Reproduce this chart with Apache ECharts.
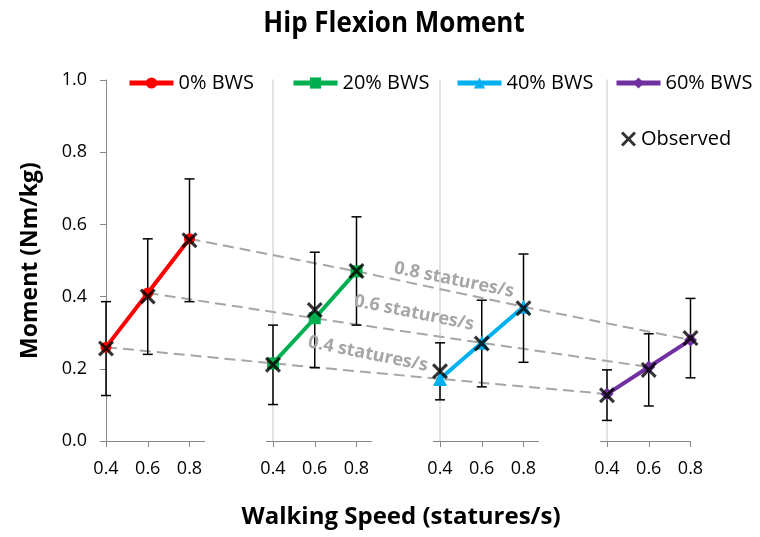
<!DOCTYPE html>
<html><head><meta charset="utf-8">
<script src="https://cdn.jsdelivr.net/npm/echarts@6/dist/echarts.min.js"></script>
<style>html,body{margin:0;padding:0;background:#fff}#c{width:760px;height:537px}</style>
</head><body><div id="c"></div>
<script>
// ---- data ----
const speeds = [0.4, 0.6, 0.8];
const groups = ['0% BWS', '20% BWS', '40% BWS', '60% BWS'];
const predicted0 = [0.26, 0.41, 0.56];
const predicted20 = [0.215, 0.34, 0.47];
const predicted40 = [0.172, 0.272, 0.372];
const predicted60 = [0.13, 0.205, 0.28];
const observed0 = [0.256, 0.40, 0.556];
const observed20 = [0.211, 0.363, 0.471];
const observed40 = [0.193, 0.27, 0.368];
const observed60 = [0.127, 0.197, 0.285];
const sd0 = [0.13, 0.16, 0.17];
const sd20 = [0.11, 0.16, 0.15];
const sd40 = [0.079, 0.12, 0.15];
const sd60 = [0.07, 0.10, 0.11];
const speedLineLabels = ['0.4 statures/s', '0.6 statures/s', '0.8 statures/s'];
const yTicks = [0, 0.2, 0.4, 0.6, 0.8, 1.0];

// ---- styling / layout ----
const FONT = 'Open Sans';
const predicted = [predicted0, predicted20, predicted40, predicted60];
const observed = [observed0, observed20, observed40, observed60];
const sds = [sd0, sd20, sd40, sd60];
const colors = ['#ff0000', '#00b050', '#00b0f0', '#7030a0'];
const symbols = ['circle', 'rect', 'triangle', 'diamond'];
const symbolSizes = [11, 12, 14, 13];
const xPath = 'path://M0,1.4L1.4,0L5,3.6L8.6,0L10,1.4L6.4,5L10,8.6L8.6,10L5,6.4L1.4,10L0,8.6L3.6,5Z';
const UNIT = 41.75;         // px per 0.2 speed step
const G0 = 106, TOP = 80, H = 361;
const EXTRA = 15;           // axis extends beyond last point

const grids = [], xAxes = [], yAxes = [], series = [];
groups.forEach((name, g) => {
  const last = g === groups.length - 1;
  const w = UNIT * 2 + (last ? 0 : EXTRA);
  grids.push({left: G0 + UNIT * 4 * g, top: TOP, width: w, height: H});
  xAxes.push({
    type: 'value', gridIndex: g, min: 0.4,
    max: 0.4 + 0.2 * (w / UNIT),
    axisLine: {lineStyle: {color: '#868686', width: 1}},
    axisTick: {customValues: speeds, length: 6, lineStyle: {color: '#868686'}},
    axisLabel: {customValues: speeds, formatter: v => v.toFixed(1), fontSize: 18,
      fontFamily: FONT, color: '#000', margin: 19},
    splitLine: {show: false}
  });
  const y = {
    type: 'value', gridIndex: g, min: 0, max: 1, interval: 0.2,
    splitLine: {show: false}
  };
  if (g === 0) {
    Object.assign(y, {
      axisLine: {show: true, lineStyle: {color: '#868686', width: 1}},
      axisTick: {show: true, length: 6, lineStyle: {color: '#868686'}},
      axisLabel: {fontSize: 18, fontFamily: FONT, color: '#000', margin: 19,
        formatter: v => v.toFixed(1), customValues: yTicks},
      name: 'Moment (Nm/kg)', nameLocation: 'middle', nameGap: 64,
      nameTextStyle: {fontSize: 23, fontWeight: 'bold', fontFamily: FONT, color: '#000'}
    });
  } else {
    Object.assign(y, {
      axisLine: {show: true, lineStyle: {color: '#d9d9d9', width: 1.5}},
      axisTick: {show: true, customValues: [0], length: 7, lineStyle: {color: '#868686', width: 1}},
      axisLabel: {show: false}
    });
  }
  yAxes.push(y);

  series.push({
    type: 'custom', name: name + ' SD', xAxisIndex: g, yAxisIndex: g, z: 4, silent: true,
    data: speeds.map((s, i) => [s, observed[g][i] - sds[g][i], observed[g][i] + sds[g][i]]),
    renderItem: (params, api) => {
      const lo = api.coord([api.value(0), api.value(1)]);
      const hi = api.coord([api.value(0), api.value(2)]);
      const st = {stroke: '#000', lineWidth: 1.5};
      return {type: 'group', children: [
        {type: 'line', shape: {x1: lo[0], y1: lo[1], x2: hi[0], y2: hi[1]}, style: st},
        {type: 'line', shape: {x1: lo[0] - 5, y1: lo[1], x2: lo[0] + 5, y2: lo[1]}, style: st},
        {type: 'line', shape: {x1: hi[0] - 5, y1: hi[1], x2: hi[0] + 5, y2: hi[1]}, style: st}
      ]};
    }
  });
  series.push({
    type: 'line', name: name, xAxisIndex: g, yAxisIndex: g, z: 5,
    data: speeds.map((s, i) => [s, predicted[g][i]]),
    color: colors[g], symbol: symbols[g], symbolSize: symbolSizes[g],
    lineStyle: {width: 4, color: colors[g]}, itemStyle: {color: colors[g]},
    clip: false, animation: false
  });
  series.push({
    type: 'scatter', name: 'Observed', xAxisIndex: g, yAxisIndex: g, z: 6,
    data: speeds.map((s, i) => [s, observed[g][i]]),
    symbol: xPath, symbolSize: 16, itemStyle: {color: '#000'}, clip: false
  });
});

// overlay grid for constant-speed dashed lines across groups
const OV = groups.length;
grids.push({left: G0, top: TOP, width: UNIT * 4 * (groups.length - 1) + UNIT * 2, height: H});
xAxes.push({type: 'value', gridIndex: OV, min: 0, max: 4 * (groups.length - 1) + 2, show: false});
yAxes.push({type: 'value', gridIndex: OV, min: 0, max: 1, show: false});
speedLineLabels.forEach((lab, i) => {
  series.push({
    type: 'line', name: lab, xAxisIndex: OV, yAxisIndex: OV, z: 1, silent: true,
    data: groups.map((_, g) => [4 * g + i, predicted[g][i]]),
    symbol: 'none', lineStyle: {type: [11, 6], color: '#a6a6a6', width: 2}, animation: false
  });
});

const legendLefts = [127, 291, 455, 614];
const legends = groups.map((name, g) => ({
  data: [name], left: legendLefts[g], top: 73, padding: 0, itemWidth: 44, itemHeight: 14,
  lineStyle: {width: 5}, selectedMode: false,
  textStyle: {fontSize: 20, fontFamily: FONT, color: '#000'}
}));
legends.push({
  data: [{name: 'Observed', icon: xPath}], left: 621, top: 129, padding: 0, itemWidth: 15, itemHeight: 15,
  selectedMode: false, textStyle: {fontSize: 20, fontFamily: FONT, color: '#000'}
});

const annoPos = [[368, 354], [414, 313], [454, 280]];
const graphic = [
  {type: 'text', x: 394, y: 26, style: {text: 'Hip Flexion Moment', font: 'bold 26px "Open Sans"',
    fill: '#000', align: 'center', verticalAlign: 'middle'}, scaleY: 1.1, originY: 26},
  {type: 'text', x: 401, y: 517, style: {text: 'Walking Speed (statures/s)', font: 'bold 24px "Open Sans"',
    fill: '#000', align: 'center', verticalAlign: 'middle'}}
];
speedLineLabels.forEach((lab, i) => {
  graphic.push({type: 'text', x: annoPos[i][0], y: annoPos[i][1], rotation: -0.2, z: 10,
    style: {text: lab, font: 'bold 18px "Open Sans"', fill: '#a6a6a6', align: 'center', verticalAlign: 'middle'}});
});

const chart = echarts.init(document.getElementById('c'), null, {renderer: 'canvas'});
chart.setOption({
  animation: false,
  backgroundColor: '#fff',
  grid: grids, xAxis: xAxes, yAxis: yAxes, series: series,
  legend: legends, graphic: graphic
});
</script></body></html>
